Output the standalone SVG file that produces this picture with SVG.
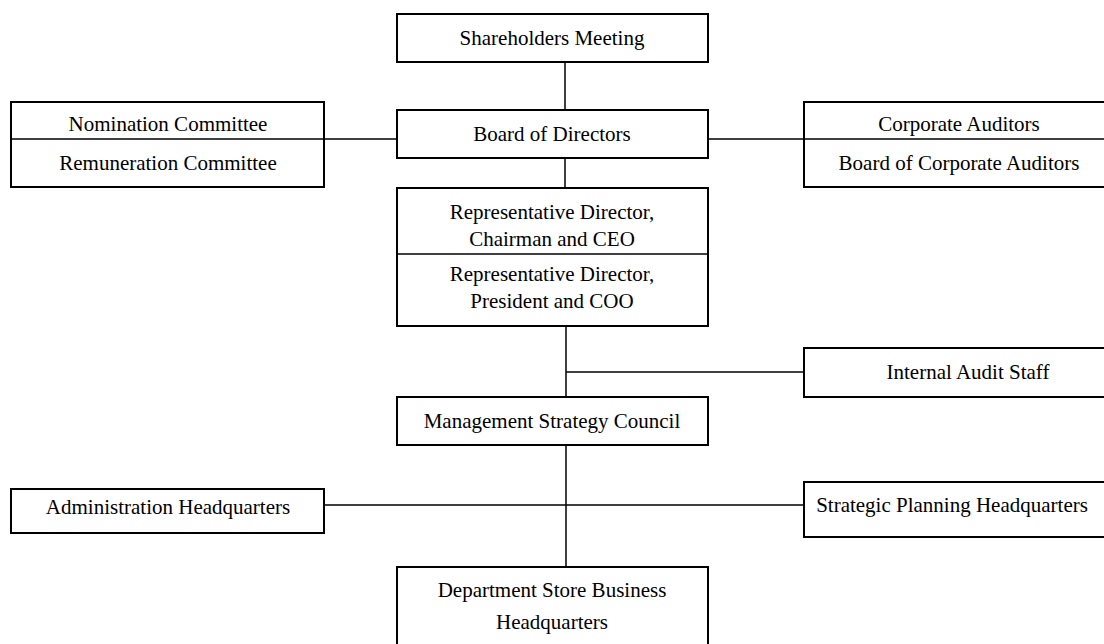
<svg xmlns="http://www.w3.org/2000/svg" width="1104" height="644" viewBox="0 0 1104 644">
<style>
.box{fill:#fff;stroke:#000;stroke-width:2}
.div{stroke:#000;stroke-width:1.5}
.con{stroke:#000;stroke-width:1.5;fill:none}
text{font-family:"Liberation Serif","Times New Roman",serif;font-size:21px;fill:#000;text-anchor:middle}
</style>
<rect width="1104" height="644" fill="#fff"/>
<g id="connectors">
<line class="con" x1="565" y1="62" x2="565" y2="110"/>
<line class="con" x1="324" y1="139" x2="397" y2="139"/>
<line class="con" x1="708" y1="139" x2="804" y2="139"/>
<line class="con" x1="565" y1="158" x2="565" y2="188"/>
<line class="con" x1="566" y1="326" x2="566" y2="397"/>
<line class="con" x1="566" y1="372" x2="804" y2="372"/>
<line class="con" x1="566" y1="445" x2="566" y2="567"/>
<line class="con" x1="324" y1="505" x2="804" y2="505"/>
</g>
<g id="shareholders">
<rect class="box" x="397" y="14" width="311" height="48"/>
<text x="552" y="45">Shareholders Meeting</text>
</g>
<g id="board">
<rect class="box" x="397" y="110" width="311" height="48"/>
<text x="552" y="141">Board of Directors</text>
</g>
<g id="committees">
<rect class="box" x="11" y="102" width="313" height="85"/>
<line class="div" x1="11" y1="139" x2="324" y2="139"/>
<text x="168" y="131">Nomination Committee</text>
<text x="168" y="170">Remuneration Committee</text>
</g>
<g id="auditors">
<rect class="box" x="804" y="102" width="310" height="85"/>
<line class="div" x1="804" y1="139" x2="1110" y2="139"/>
<text x="959" y="131">Corporate Auditors</text>
<text x="959" y="170">Board of Corporate Auditors</text>
</g>
<g id="representatives">
<rect class="box" x="397" y="188" width="311" height="138"/>
<line class="div" x1="397" y1="254" x2="708" y2="254"/>
<text x="552" y="219">Representative Director,</text>
<text x="552" y="246">Chairman and CEO</text>
<text x="552" y="281">Representative Director,</text>
<text x="552" y="308">President and COO</text>
</g>
<g id="internal-audit">
<rect class="box" x="804" y="348" width="310" height="49"/>
<text x="968" y="379">Internal Audit Staff</text>
</g>
<g id="management-council">
<rect class="box" x="397" y="397" width="311" height="48"/>
<text x="552" y="428">Management Strategy Council</text>
</g>
<g id="administration">
<rect class="box" x="11" y="489" width="313" height="44"/>
<text x="168" y="514">Administration Headquarters</text>
</g>
<g id="strategic-planning">
<rect class="box" x="804" y="482" width="310" height="55"/>
<text x="952" y="512">Strategic Planning Headquarters</text>
</g>
<g id="department-store">
<rect class="box" x="397" y="567" width="311" height="90"/>
<text x="552" y="597">Department Store Business</text>
<text x="552" y="629">Headquarters</text>
</g>
</svg>
